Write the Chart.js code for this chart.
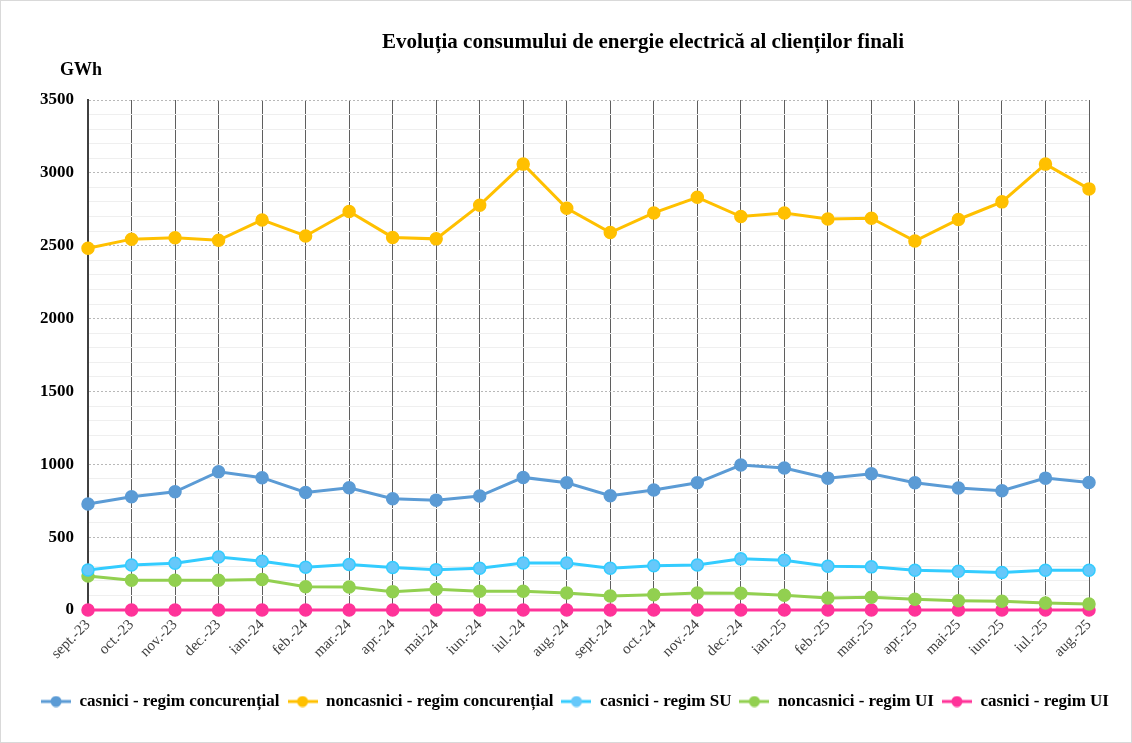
<!DOCTYPE html>
<html>
<head>
<meta charset="utf-8">
<script src="https://cdn.jsdelivr.net/npm/chart.js@4.4.0/dist/chart.umd.min.js"></script>
<style>
  html, body { margin: 0; padding: 0; background: #fff; }
  #wrap { position: relative; width: 1132px; height: 743px; box-sizing: border-box; border: 1px solid #d9d9d9; }
  canvas { display: block; }
</style>
</head>
<body>
<div id="wrap"><canvas id="chart" width="1130" height="741"></canvas></div>
<script>
const months = ['sept.-23','oct.-23','nov.-23','dec.-23','ian.-24','feb.-24','mar.-24','apr.-24','mai-24','iun.-24','iul.-24','aug.-24',
  'sept.-24','oct.-24','nov.-24','dec.-24','ian.-25','feb.-25','mar.-25','apr.-25','mai-25','iun.-25','iul.-25','aug.-25'];
const casniciConc = [727,777,811,949,908,807,839,763,754,782,910,873,784,823,873,995,974,905,935,873,837,818,905,875];
const noncasniciConc = [2482,2545,2555,2537,2677,2567,2735,2557,2547,2778,3060,2757,2590,2725,2832,2700,2725,2684,2689,2532,2680,2801,3060,2890];
const casniciSU = [275,309,321,364,335,294,312,291,277,287,323,323,287,303,309,351,342,300,296,273,266,257,273,273];
const noncasniciUI = [234,204,204,204,209,160,158,126,142,129,129,117,96,105,117,115,101,83,87,74,64,60,48,41];
const casniciUI = [0,0,0,0,0,0,0,0,0,0,0,0,0,0,0,0,0,0,0,0,0,0,0,0];

const chartTitle = 'Evoluția consumului de energie electrică al clienților finali';
const unitLabel = 'GWh';
const serif = "'Liberation Serif', 'Times New Roman', serif";

function series(label, data, color, fill) {
  return {
    label: label,
    data: data,
    borderColor: color,
    backgroundColor: fill || color,
    borderWidth: 3,
    pointRadius: 6,
    pointHoverRadius: 6,
    pointBorderWidth: 1.5,
    pointBackgroundColor: fill || color,
    pointBorderColor: color,
    tension: 0,
    clip: false
  };
}

function legendMarker(color, fill) {
  const c = document.createElement('canvas');
  c.width = 30; c.height = 12;
  const g = c.getContext('2d');
  g.strokeStyle = color;
  g.lineWidth = 3;
  g.beginPath(); g.moveTo(0, 6); g.lineTo(30, 6); g.stroke();
  g.fillStyle = fill || color;
  g.beginPath(); g.arc(15, 6, 5.5, 0, Math.PI * 2); g.fill();
  return c;
}

const textPlugin = {
  id: 'texts',
  afterLayout(chart) {
    // legend sits a bit right of the plot centre in the original
    if (chart.legend) { chart.legend.left += 30; chart.legend.right += 30; }
  },
  afterDraw(chart) {
    const ctx = chart.ctx;
    ctx.save();
    ctx.fillStyle = '#000';
    ctx.textBaseline = 'middle';
    ctx.textAlign = 'center';
    ctx.font = 'bold 21px ' + serif;
    ctx.fillText(chartTitle, 642, 42);
    ctx.textAlign = 'left';
    ctx.font = 'bold 18px ' + serif;
    ctx.fillText(unitLabel, 59, 69);
    ctx.restore();
  }
};

const ctx = document.getElementById('chart').getContext('2d');
new Chart(ctx, {
  type: 'line',
  data: {
    labels: months,
    datasets: [
      series('casnici - regim concurențial', casniciConc, '#5B9BD5'),
      series('noncasnici - regim concurențial', noncasniciConc, '#FFC000'),
      series('casnici - regim SU', casniciSU, '#33CCFF', '#66C8FA'),
      series('noncasnici - regim UI', noncasniciUI, '#92D050'),
      series('casnici - regim UI', casniciUI, '#FF3399')
    ]
  },
  options: {
    responsive: false,
    animation: false,
    layout: { padding: { left: 0, right: 42, top: 99, bottom: 22 } },
    plugins: {
      title: { display: false },
      tooltip: { enabled: false },
      legend: {
        position: 'bottom',
        labels: {
          usePointStyle: true,
          pointStyleWidth: 30,
          padding: 8,
          color: '#000',
          font: { family: serif, size: 17, weight: 'bold' },
          generateLabels(chart) {
            const items = Chart.defaults.plugins.legend.labels.generateLabels(chart);
            return items.map(it => {
              const ds = chart.data.datasets[it.datasetIndex];
              it.pointStyle = legendMarker(ds.borderColor, ds.pointBackgroundColor);
              return it;
            });
          }
        }
      }
    },
    scales: {
      x: {
        offset: false,
        grid: { color: '#5f5f5f', lineWidth: 1, drawTicks: false },
        border: { color: '#5f5f5f', width: 1 },
        ticks: {
          autoSkip: false,
          maxRotation: 45,
          minRotation: 45,
          padding: 6,
          color: '#404040',
          font: { family: serif, size: 15 }
        },
        afterFit(scale) { scale.height = 75; }
      },
      y: {
        min: 0,
        max: 3500,
        grid: {
          drawTicks: false,
          color: c => (c.tick && c.tick.value % 500 === 0) ? '#b8b8b8' : '#efefef',
          lineWidth: 1
        },
        border: {
          color: '#404040', width: 2,
          dash: c => (c.tick && c.tick.value % 500 === 0 && c.tick.value > 0) ? [2, 2] : []
        },
        ticks: {
          stepSize: 100,
          autoSkip: false,
          padding: 14,
          color: '#000',
          font: { family: serif, size: 17, weight: 'bold' },
          callback: v => (v % 500 === 0 ? String(v) : '')
        },
        afterFit(scale) { scale.width = 87; }
      }
    }
  },
  plugins: [textPlugin]
});
</script>
</body>
</html>
